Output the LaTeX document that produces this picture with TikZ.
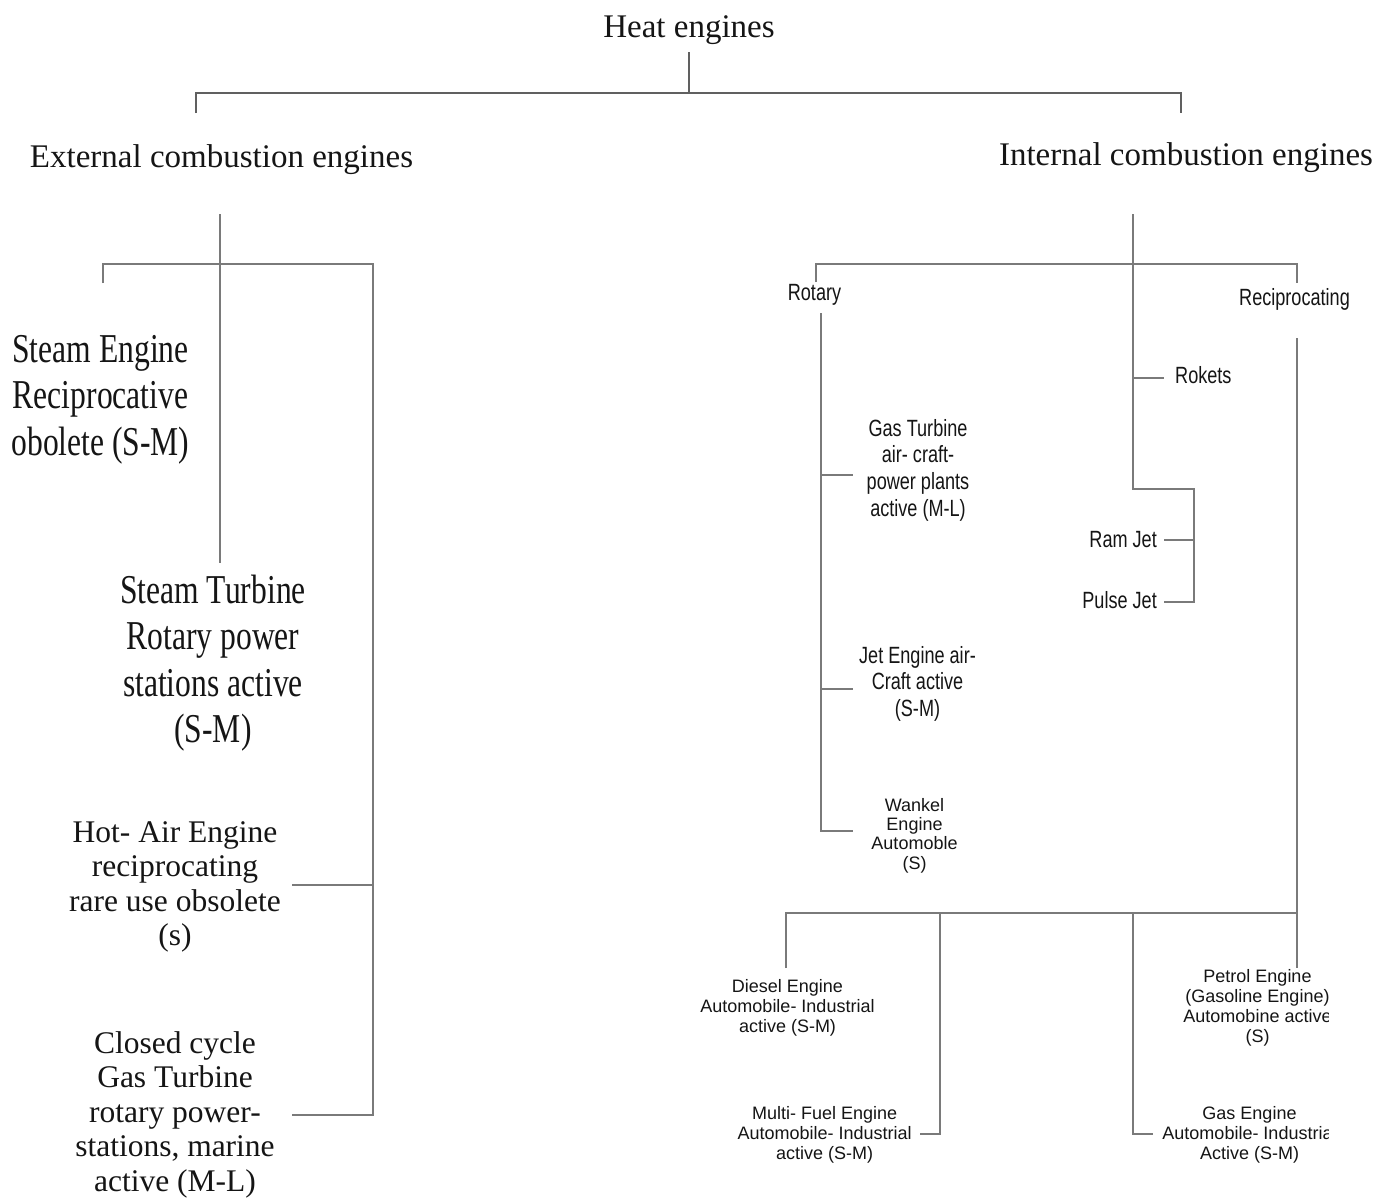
\documentclass[tikz,border=0pt]{standalone}
\usepackage{fontspec}
\setmainfont{Liberation Serif}
\newfontfamily\sansf{Liberation Sans}
\newfontfamily\sanscond[FakeStretch=0.77]{Liberation Sans}
\newfontfamily\serifcond[FakeStretch=0.77]{Liberation Serif}
\definecolor{linegray}{HTML}{7A7A7A}
\definecolor{topgray}{HTML}{606060}
\definecolor{txt}{HTML}{151515}
\tikzset{
  ln/.style={draw=linegray, line width=1.2pt},
  tln/.style={draw=topgray, line width=1.2pt},
  big/.style={font=\fontsize{33}{38}\selectfont, inner sep=0pt, text=txt},
  steam/.style={font=\serifcond\fontsize{41}{46.5}\selectfont, align=center, inner sep=0pt, text=txt},
  hot/.style={font=\fontsize{31.5}{34.5}\selectfont, align=center, inner sep=0pt, text=txt},
  cs/.style={font=\sanscond\fontsize{23.5}{26.8}\selectfont, align=center, inner sep=0pt, text=txt},
  wk/.style={font=\sansf\fontsize{18}{19.4}\selectfont, align=center, inner sep=0pt, text=txt},
  sm/.style={font=\sansf\fontsize{18}{20}\selectfont, align=center, inner sep=0pt, text=txt},
}
\begin{document}
\begin{tikzpicture}[x=1pt,y=-1pt]
\useasboundingbox[fill=white] (0,0) rectangle (1392,1197);

% ---------- text nodes (base anchor = baseline of last line) ----------
\node[big, anchor=base] (heat) at (689,37) {Heat engines};
\node[big, anchor=base] (ext) at (221.5,167) {External combustion engines};
\node[big, anchor=base] (int) at (1186,165) {Internal combustion engines};

\node[steam, anchor=base] (se) at (100.5,455) {Steam Engine\\Reciprocative\\obolete (S-M)};
\node[steam, anchor=base] (st) at (213,742.5) {Steam Turbine\\Rotary power\\stations active\\(S-M)};
\node[hot, anchor=base] (ha) at (175,945.5) {Hot- Air Engine\\reciprocating\\rare use obsolete\\(s)};
\node[hot, anchor=base] (cc) at (175,1191) {Closed cycle\\Gas Turbine\\rotary power-\\stations, marine\\active (M-L)};

\node[cs, anchor=base] (rot) at (814.5,300) {Rotary};
\node[cs, anchor=base] (rec) at (1294.5,305) {Reciprocating};
\node[cs, anchor=base west] (rok) at (1175,383) {Rokets};
\node[cs, anchor=base east] (ram) at (1157,547) {Ram Jet};
\node[cs, anchor=base east] (pul) at (1157,608) {Pulse Jet};
\node[cs, anchor=base] (gt) at (918,516.4) {Gas Turbine\\air- craft-\\power plants\\active (M-L)};
\node[cs, anchor=base] (je) at (917.5,716.6) {Jet Engine air-\\Craft active\\(S-M)};
\node[wk, anchor=base] (wk) at (914.5,869.2) {Wankel\\Engine\\Automoble\\(S)};

\node[sm, anchor=base] (de) at (787.5,1032) {Diesel Engine\\Automobile- Industrial\\active (S-M)};
\node[sm, anchor=base] (mf) at (824.7,1159) {Multi- Fuel Engine\\Automobile- Industrial\\active (S-M)};
\begin{scope}
\clip (0,0) rectangle (1328,1197);
\node[sm, anchor=base] (pe) at (1257.5,1042) {Petrol Engine\\(Gasoline Engine)\\Automobine active\\(S)};
\node[sm, anchor=base] (ge) at (1249.5,1159) {Gas Engine\\Automobile- Industrial\\Active (S-M)};
\end{scope}

% ---------- junction coordinates ----------
\coordinate (h0) at (689,52);
\coordinate (h1) at (689,93);
\coordinate (hl) at (196,93);
\coordinate (hr) at (1181,93);
\coordinate (hlb) at (196,113);
\coordinate (hrb) at (1181,113);

\coordinate (e0) at (220,214);
\coordinate (e2) at (220,563);
\coordinate (el) at (103,264);
\coordinate (elb) at (103,283);
\coordinate (er) at (373,264);
\coordinate (erh) at (373,885);
\coordinate (erc) at (373,1115);
\coordinate (hae) at (292,885);
\coordinate (cce) at (292,1115);

\coordinate (i0) at (1133,214);
\coordinate (irk) at (1133,378);
\coordinate (i2) at (1133,489);
\coordinate (rke) at (1164,378);
\coordinate (il) at (816,264);
\coordinate (ilb) at (816,282);
\coordinate (ir) at (1297,264);
\coordinate (irb) at (1297,283);
\coordinate (jb0) at (1194,489);
\coordinate (jb1) at (1194,540);
\coordinate (jb2) at (1194,602);
\coordinate (rme) at (1164,540);
\coordinate (pue) at (1164,602);

\coordinate (r0) at (821,313);
\coordinate (r1) at (821,475);
\coordinate (r2) at (821,689);
\coordinate (r3) at (821,831);
\coordinate (gte) at (853,475);
\coordinate (jee) at (853,689);
\coordinate (wke) at (853,831);

\coordinate (p0) at (1297,338);
\coordinate (p1) at (1297,913);
\coordinate (p2) at (1297,968);
\coordinate (b0) at (786,913);
\coordinate (b0b) at (786,968);
\coordinate (b1) at (940,913);
\coordinate (b1b) at (940,1134);
\coordinate (mfe) at (920,1134);
\coordinate (b2) at (1133,913);
\coordinate (b2b) at (1133,1134);
\coordinate (gee) at (1153,1134);

% ---------- connectors ----------
\draw[tln] (h0) -- (h1);
\draw[tln] (hlb) -- (hl) -- (hr) -- (hrb);

\draw[ln] (e0) -- (e2);
\draw[ln] (elb) -- (el) -- (er) -- (erc) -- (cce);
\draw[ln] (erh) -- (hae);

\draw[ln] (i0) -- (i2) -- (jb0) -- (jb2) -- (pue);
\draw[ln] (irk) -- (rke);
\draw[ln] (jb1) -- (rme);
\draw[ln] (ilb) -- (il) -- (ir) -- (irb);

\draw[ln] (r0) -- (r3) -- (wke);
\draw[ln] (r1) -- (gte);
\draw[ln] (r2) -- (jee);

\draw[ln] (p0) -- (p2);
\draw[ln] (b0b) -- (b0) -- (p1);
\draw[ln] (b1) -- (b1b) -- (mfe);
\draw[ln] (b2) -- (b2b) -- (gee);
\end{tikzpicture}
\end{document}
